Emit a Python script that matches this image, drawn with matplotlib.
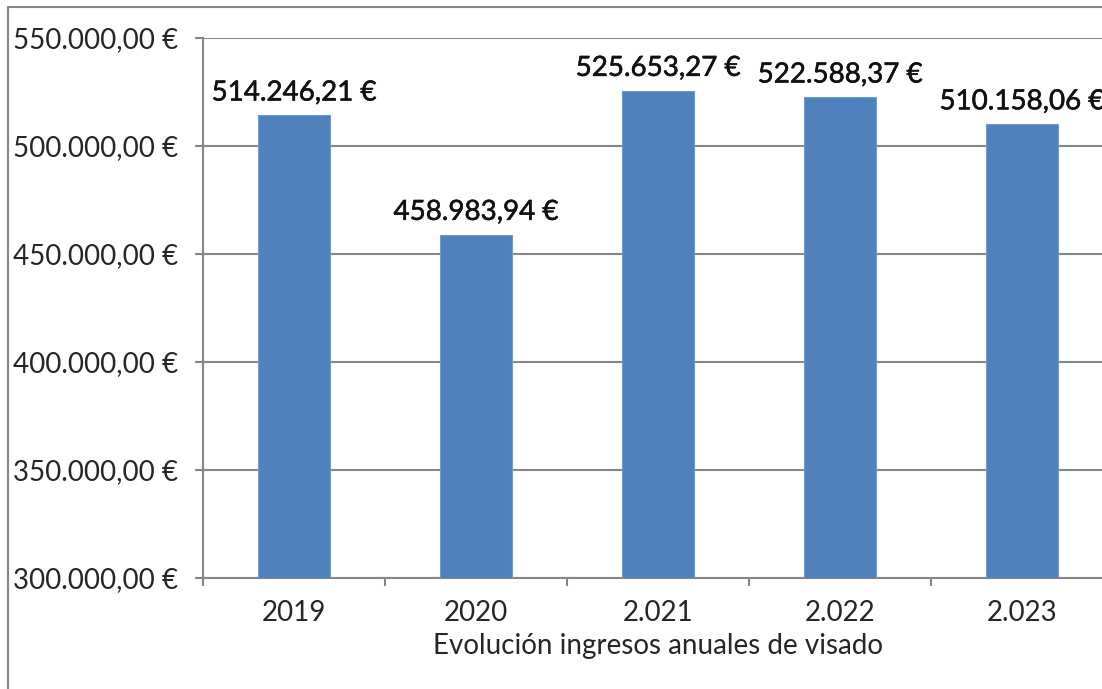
import matplotlib.pyplot as plt
import matplotlib.patheffects as pe
from matplotlib.patches import Rectangle
from matplotlib.ticker import FuncFormatter, FixedLocator

years = ["2019", "2020", "2.021", "2.022", "2.023"]
ingresos = [514246.21, 458983.94, 525653.27, 522588.37, 510158.06]
y_ticks = [300000, 350000, 400000, 450000, 500000, 550000]
x_title = "Evolución ingresos anuales de visado"

GRAY = "#868686"
BLUE = "#4F81BD"
TXT = "#262626"
FS = 20


def euro(v, pos=None):
    s = f"{v:,.2f}"
    s = s.replace(",", "X").replace(".", ",").replace("X", ".")
    return f"{s} €"


plt.rcParams["font.family"] = ["Lato", "DejaVu Sans"]

fig = plt.figure(figsize=(11.02, 6.89), dpi=100)
# frame of the original chart area (right/bottom edges fall outside the crop)
fig.patches.append(Rectangle((8 / 1102, -0.1), 1.2, 1 - 7 / 689 + 0.1,
                             transform=fig.transFigure, fill=False,
                             edgecolor=GRAY, linewidth=1.5))

# plot area runs past the right edge, as in the cropped original
ax = fig.add_axes([203 / 1102, 1 - 578 / 689, 910 / 1102, 540 / 689])
x = list(range(len(years)))
ax.bar(x, ingresos, width=0.4, color=BLUE, edgecolor="#6f9bd1",
       linewidth=0.8, zorder=3)

ax.set_xlim(-0.5, len(years) - 0.5)
ax.set_ylim(300000, 550000)
ax.set_yticks(y_ticks)
ax.yaxis.set_major_formatter(FuncFormatter(euro))
ax.grid(axis="y", color=GRAY, linewidth=1.5, zorder=0)

ax.set_xticks(x)
ax.set_xticklabels(years)
ax.xaxis.set_minor_locator(FixedLocator([i + 0.5 for i in range(-1, len(years))]))
ax.tick_params(axis="x", which="major", length=0, pad=16, labelsize=FS,
               labelcolor=TXT)
ax.tick_params(axis="x", which="minor", length=6, width=1.5, color=GRAY)
ax.tick_params(axis="y", length=6, width=1.5, color=GRAY, pad=12,
               labelsize=FS, labelcolor=TXT)
ax.set_xlabel(x_title, fontsize=FS, color=TXT, labelpad=5)

for s in ["top", "right"]:
    ax.spines[s].set_visible(False)
for s in ["left", "bottom"]:
    ax.spines[s].set_color(GRAY)
    ax.spines[s].set_linewidth(1.5)

for xi, v in zip(x, ingresos):
    ax.annotate(euro(v), (xi, v), xytext=(0, 7), textcoords="offset points",
                ha="center", va="bottom", fontsize=FS, color="#111111",
                path_effects=[pe.withStroke(linewidth=0.4, foreground="#111111")])

fig.savefig("out.png", dpi=100)
